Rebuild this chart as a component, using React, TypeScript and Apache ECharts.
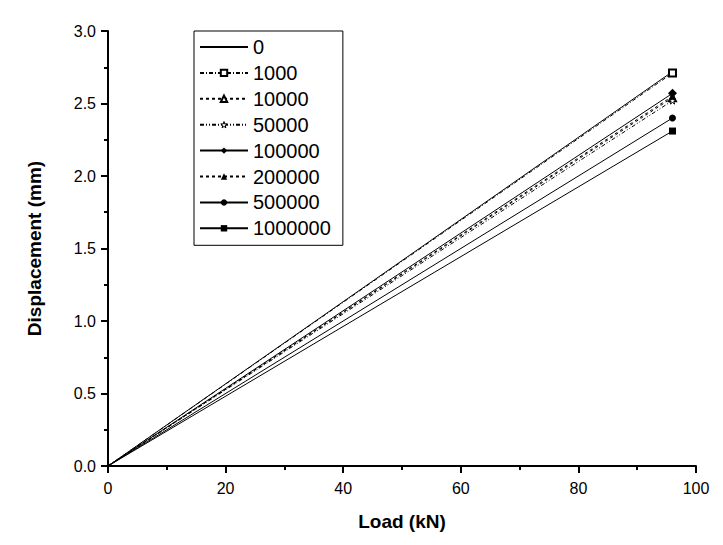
import React, { useEffect, useRef } from "react";
import * as echarts from "echarts";

const seriesNames = ["0", "1000", "10000", "50000", "100000", "200000", "500000", "1000000"];
const startLoad = 0;
const endLoad = 96;
const endDisplacement = [2.72, 2.71, 2.54, 2.52, 2.57, 2.55, 2.4, 2.31];
const symbols = [
  "none",
  "emptyRect",
  "emptyTriangle",
  "path://M50,0 L61,35 L98,35 L68,57 L79,91 L50,70 L21,91 L32,57 L2,35 L39,35 Z",
  "diamond",
  "triangle",
  "circle",
  "rect",
];
const dashes: (string | number[])[] = ["solid", [4, 2, 1, 2], [3, 3], [4, 2, 1, 2, 1, 2], "solid", [3, 3], "solid", "solid"];
const xTicks = [0, 20, 40, 60, 80, 100];
const yTicks = [0, 0.5, 1.0, 1.5, 2.0, 2.5, 3.0];

export default function App() {
  const ref = useRef<HTMLDivElement>(null);
  useEffect(() => {
    if (!ref.current) return;
    const chart = echarts.init(ref.current, null, { renderer: "svg" });
    const font = "Liberation Sans, Arial, sans-serif";
    const series = seriesNames.map((name, i) => {
      const isPath = symbols[i].startsWith("path");
      const hollow = symbols[i].startsWith("empty") || isPath;
      return {
        name,
        type: "line",
        symbol: symbols[i],
        symbolSize: symbols[i] === "diamond" ? 9 : 7,
        showSymbol: true,
        lineStyle: { color: "#000", width: 1, type: dashes[i] },
        itemStyle: hollow
          ? { color: isPath ? "#fff" : "#000", borderColor: "#000", borderWidth: 1 }
          : { color: "#000" },
        data: [
          { value: [startLoad, 0], symbol: "none" },
          { value: [endLoad, endDisplacement[i]] },
        ],
      };
    });
    const legendData = seriesNames.map((name, i) => {
      if (symbols[i] === "none") return { name, itemStyle: { opacity: 0 } };
      if (symbols[i].startsWith("path"))
        return { name, itemStyle: { color: "#fff", borderColor: "#000", borderWidth: 1 } };
      return { name };
    });
    chart.setOption({
      animation: false,
      backgroundColor: "#fff",
      textStyle: { fontFamily: font },
      grid: { left: 108, right: 27, top: 31, bottom: 79 },
      legend: {
        left: 194,
        top: 31,
        orient: "vertical",
        itemWidth: 48,
        itemHeight: 8,
        itemGap: 5.9,
        padding: [6, 12, 7, 5],
        borderColor: "#000",
        borderWidth: 1,
        textStyle: { fontSize: 20, color: "#000", fontFamily: font },
        data: legendData,
      },
      xAxis: {
        type: "value",
        min: xTicks[0],
        max: xTicks[xTicks.length - 1],
        interval: 20,
        name: "Load (kN)",
        nameLocation: "middle",
        nameGap: 46,
        nameTextStyle: { fontSize: 19, fontWeight: "bold", color: "#000", fontFamily: font },
        axisLine: { lineStyle: { color: "#000", width: 2 } },
        axisTick: { inside: false, length: 7, lineStyle: { width: 2, color: "#000" } },
        minorTick: { show: true, splitNumber: 2, length: 4, lineStyle: { width: 2, color: "#000" } },
        splitLine: { show: false },
        axisLabel: { fontSize: 16, color: "#000", margin: 14 },
      },
      yAxis: {
        type: "value",
        min: yTicks[0],
        max: yTicks[yTicks.length - 1],
        interval: 0.5,
        name: "Displacement (mm)",
        nameLocation: "middle",
        nameGap: 64,
        nameTextStyle: { fontSize: 19, fontWeight: "bold", color: "#000", fontFamily: font },
        axisLine: { show: true, lineStyle: { color: "#000", width: 2 } },
        axisTick: { show: true, inside: false, length: 7, lineStyle: { width: 2, color: "#000" } },
        minorTick: { show: true, splitNumber: 2, length: 4, lineStyle: { width: 2, color: "#000" } },
        splitLine: { show: false },
        axisLabel: { fontSize: 16, color: "#000", margin: 12, formatter: (v: number) => v.toFixed(1) },
      },
      series,
    });
    return () => chart.dispose();
  }, []);
  return (
    <div
      ref={ref}
      style={{ position: "fixed", left: 0, top: 0, width: 723, height: 545, background: "#fff" }}
    />
  );
}
